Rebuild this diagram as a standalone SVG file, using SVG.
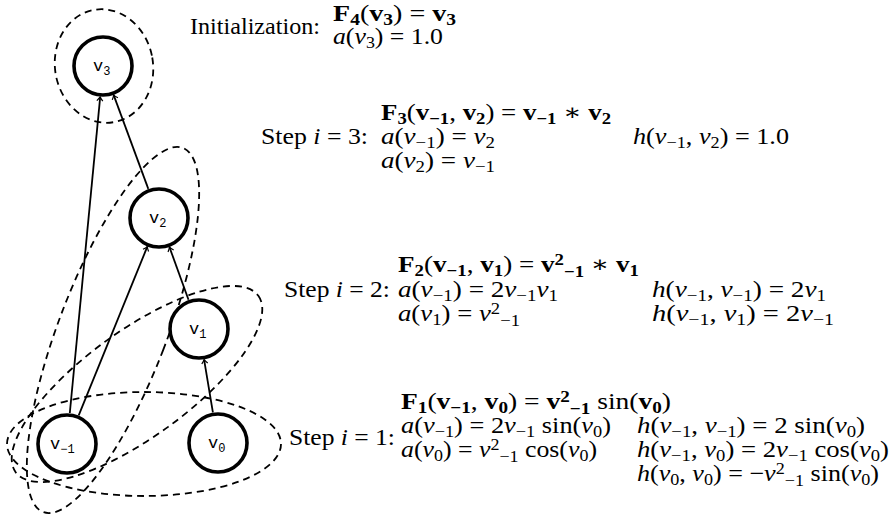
<svg xmlns="http://www.w3.org/2000/svg" width="896" height="519" viewBox="0 0 896 519">
<style>
.node{fill:#fff;stroke:#000;stroke-width:3.6}
.lbl{font-family:"Liberation Mono","DejaVu Sans Mono",monospace;font-size:17px;fill:#000}
.ls{font-size:12px;baseline-shift:-4px}
.grp{fill:none;stroke:#000;stroke-width:1.8;stroke-dasharray:7 5}
.edge{fill:none;stroke:#000;stroke-width:1.8}
.m{font-family:"Liberation Serif","DejaVu Serif","Times New Roman",serif;font-size:23px;fill:#000}
.i{font-style:italic}
.b{font-weight:bold}
.s{font-size:16px;baseline-shift:-4px}
.q{font-size:16px;baseline-shift:-5px}
.p{font-size:16px;baseline-shift:7px}
</style>
<defs>
<marker id="arr" markerWidth="10" markerHeight="10" refX="0" refY="0" viewBox="-6 -5 8 10" orient="auto" markerUnits="userSpaceOnUse">
<path d="M-4,-3 Q-1.5,-0.8 0,0 Q-1.5,0.8 -4,3" fill="none" stroke="#000" stroke-width="1.2"/>
</marker>
</defs>
<g id="groups">
<ellipse class="grp" cx="104" cy="66" rx="49" ry="57" transform="rotate(-10 104 66)"/>
<ellipse class="grp" cx="113" cy="330" rx="54" ry="195" transform="rotate(21 113 330)"/>
<ellipse class="grp" cx="137" cy="384" rx="150" ry="53" transform="rotate(-36 137 384)"/>
<ellipse class="grp" cx="144" cy="444" rx="137" ry="52"/>
</g>
<g id="connectors">
<path class="edge" d="M69.8,413 L100.2,96.9" marker-end="url(#arr)"/>
<path class="edge" d="M148.3,188.9 L113.7,95.1" marker-end="url(#arr)"/>
<path class="edge" d="M78.7,415.3 L147.3,246.7" marker-end="url(#arr)"/>
<path class="edge" d="M188.5,299.8 L169.5,247.2" marker-end="url(#arr)"/>
<path class="edge" d="M212.9,412.4 L204.1,359.6" marker-end="url(#arr)"/>
</g>
<g id="v3"><circle class="node" cx="103" cy="66" r="29"/><text class="lbl" x="93" y="71">v<tspan class="ls">3</tspan></text></g>
<g id="v2"><circle class="node" cx="159" cy="218" r="29"/><text class="lbl" x="149" y="223">v<tspan class="ls">2</tspan></text></g>
<g id="v1"><circle class="node" cx="199" cy="329" r="29"/><text class="lbl" x="189" y="334">v<tspan class="ls">1</tspan></text></g>
<g id="vm1"><circle class="node" cx="67" cy="444" r="29"/><text class="lbl" x="50" y="449">v<tspan class="ls">−1</tspan></text></g>
<g id="v0"><circle class="node" cx="218" cy="443" r="29"/><text class="lbl" x="208" y="448">v<tspan class="ls">0</tspan></text></g>
<g id="init">
<text class="m" x="190" y="34" textLength="130" lengthAdjust="spacingAndGlyphs">Initialization:</text>
<text class="m" x="333" y="21" textLength="123" lengthAdjust="spacingAndGlyphs"><tspan class="b">F</tspan><tspan class="s b">4</tspan>(<tspan class="b">v</tspan><tspan class="s b">3</tspan>) = <tspan class="b">v</tspan><tspan class="s b">3</tspan></text>
<text class="m" x="333" y="44" textLength="110" lengthAdjust="spacingAndGlyphs"><tspan class="i">a</tspan>(<tspan class="i">v</tspan><tspan class="s">3</tspan>) = 1.0</text>
</g>
<g id="step3">
<text class="m" x="261" y="144" textLength="107" lengthAdjust="spacingAndGlyphs">Step <tspan class="i">i</tspan> = 3:</text>
<text class="m" x="381" y="120" textLength="230" lengthAdjust="spacingAndGlyphs"><tspan class="b">F</tspan><tspan class="s b">3</tspan>(<tspan class="b">v</tspan><tspan class="s b">−1</tspan>, <tspan class="b">v</tspan><tspan class="s b">2</tspan>) = <tspan class="b">v</tspan><tspan class="s b">−1</tspan> ∗ <tspan class="b">v</tspan><tspan class="s b">2</tspan></text>
<text class="m" x="381" y="144" textLength="114" lengthAdjust="spacingAndGlyphs"><tspan class="i">a</tspan>(<tspan class="i">v</tspan><tspan class="s">−1</tspan>) = <tspan class="i">v</tspan><tspan class="s">2</tspan></text>
<text class="m" x="381" y="168" textLength="114" lengthAdjust="spacingAndGlyphs"><tspan class="i">a</tspan>(<tspan class="i">v</tspan><tspan class="s">2</tspan>) = <tspan class="i">v</tspan><tspan class="s">−1</tspan></text>
<text class="m" x="633" y="144" textLength="156" lengthAdjust="spacingAndGlyphs"><tspan class="i">h</tspan>(<tspan class="i">v</tspan><tspan class="s">−1</tspan>, <tspan class="i">v</tspan><tspan class="s">2</tspan>) = 1.0</text>
</g>
<g id="step2">
<text class="m" x="284" y="297" textLength="106" lengthAdjust="spacingAndGlyphs">Step <tspan class="i">i</tspan> = 2:</text>
<text class="m" x="398" y="272" textLength="241" lengthAdjust="spacingAndGlyphs"><tspan class="b">F</tspan><tspan class="s b">2</tspan>(<tspan class="b">v</tspan><tspan class="s b">−1</tspan>, <tspan class="b">v</tspan><tspan class="s b">1</tspan>) = <tspan class="b">v</tspan><tspan class="p b">2</tspan><tspan class="q b">−1</tspan> ∗ <tspan class="b">v</tspan><tspan class="s b">1</tspan></text>
<text class="m" x="398" y="297" textLength="160" lengthAdjust="spacingAndGlyphs"><tspan class="i">a</tspan>(<tspan class="i">v</tspan><tspan class="s">−1</tspan>) = 2<tspan class="i">v</tspan><tspan class="s">−1</tspan><tspan class="i">v</tspan><tspan class="s">1</tspan></text>
<text class="m" x="398" y="321" textLength="122" lengthAdjust="spacingAndGlyphs"><tspan class="i">a</tspan>(<tspan class="i">v</tspan><tspan class="s">1</tspan>) = <tspan class="i">v</tspan><tspan class="p">2</tspan><tspan class="q">−1</tspan></text>
<text class="m" x="652" y="297" textLength="174" lengthAdjust="spacingAndGlyphs"><tspan class="i">h</tspan>(<tspan class="i">v</tspan><tspan class="s">−1</tspan>, <tspan class="i">v</tspan><tspan class="s">−1</tspan>) = 2<tspan class="i">v</tspan><tspan class="s">1</tspan></text>
<text class="m" x="652" y="321" textLength="182" lengthAdjust="spacingAndGlyphs"><tspan class="i">h</tspan>(<tspan class="i">v</tspan><tspan class="s">−1</tspan>, <tspan class="i">v</tspan><tspan class="s">1</tspan>) = 2<tspan class="i">v</tspan><tspan class="s">−1</tspan></text>
</g>
<g id="step1">
<text class="m" x="289" y="445" textLength="106" lengthAdjust="spacingAndGlyphs">Step <tspan class="i">i</tspan> = 1:</text>
<text class="m" x="401" y="409" textLength="270" lengthAdjust="spacingAndGlyphs"><tspan class="b">F</tspan><tspan class="s b">1</tspan>(<tspan class="b">v</tspan><tspan class="s b">−1</tspan>, <tspan class="b">v</tspan><tspan class="s b">0</tspan>) = <tspan class="b">v</tspan><tspan class="p b">2</tspan><tspan class="q b">−1</tspan> sin(<tspan class="b">v</tspan><tspan class="s b">0</tspan>)</text>
<text class="m" x="401" y="433" textLength="210" lengthAdjust="spacingAndGlyphs"><tspan class="i">a</tspan>(<tspan class="i">v</tspan><tspan class="s">−1</tspan>) = 2<tspan class="i">v</tspan><tspan class="s">−1</tspan> sin(<tspan class="i">v</tspan><tspan class="s">0</tspan>)</text>
<text class="m" x="401" y="457" textLength="196" lengthAdjust="spacingAndGlyphs"><tspan class="i">a</tspan>(<tspan class="i">v</tspan><tspan class="s">0</tspan>) = <tspan class="i">v</tspan><tspan class="p">2</tspan><tspan class="q">−1</tspan> cos(<tspan class="i">v</tspan><tspan class="s">0</tspan>)</text>
<text class="m" x="637" y="433" textLength="228" lengthAdjust="spacingAndGlyphs"><tspan class="i">h</tspan>(<tspan class="i">v</tspan><tspan class="s">−1</tspan>, <tspan class="i">v</tspan><tspan class="s">−1</tspan>) = 2 sin(<tspan class="i">v</tspan><tspan class="s">0</tspan>)</text>
<text class="m" x="637" y="457" textLength="252" lengthAdjust="spacingAndGlyphs"><tspan class="i">h</tspan>(<tspan class="i">v</tspan><tspan class="s">−1</tspan>, <tspan class="i">v</tspan><tspan class="s">0</tspan>) = 2<tspan class="i">v</tspan><tspan class="s">−1</tspan> cos(<tspan class="i">v</tspan><tspan class="s">0</tspan>)</text>
<text class="m" x="637" y="481" textLength="242" lengthAdjust="spacingAndGlyphs"><tspan class="i">h</tspan>(<tspan class="i">v</tspan><tspan class="s">0</tspan>, <tspan class="i">v</tspan><tspan class="s">0</tspan>) = −<tspan class="i">v</tspan><tspan class="p">2</tspan><tspan class="q">−1</tspan> sin(<tspan class="i">v</tspan><tspan class="s">0</tspan>)</text>
</g>
</svg>
